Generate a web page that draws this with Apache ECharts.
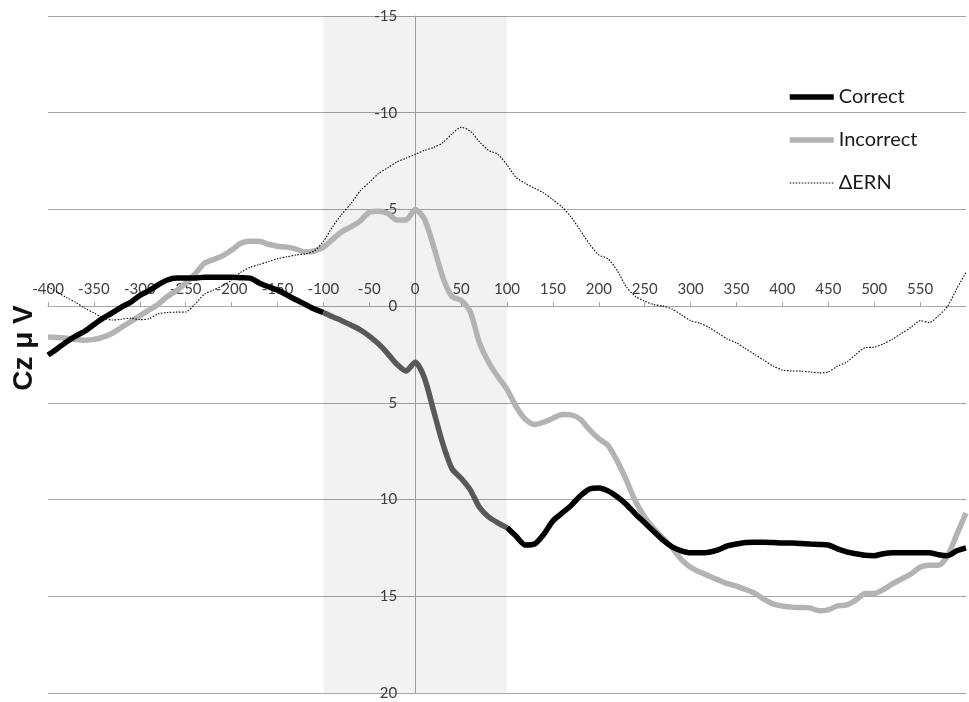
<!DOCTYPE html>
<html>
<head>
<meta charset="utf-8">
<script src="https://cdn.jsdelivr.net/npm/echarts@6/dist/echarts.min.js"></script>
<style>
  html, body { margin: 0; padding: 0; background: #fff; }
  #chart { width: 969px; height: 702px; }
</style>
</head>
<body>
<div id="chart"></div>
<script>
// Time points (ms relative to response), sampled every 10 ms
const times = Array.from({ length: 101 }, (_, i) => -400 + 10 * i);

// Cz amplitude (µV) for correct responses
const correct = [
  2.53, 2.2, 1.85, 1.55, 1.3, 0.95, 0.62, 0.35, 0.05, -0.2,
  -0.55, -0.8, -1.1, -1.35, -1.45, -1.45, -1.45, -1.5, -1.5, -1.5,
  -1.5, -1.47, -1.45, -1.2, -1.0, -0.83, -0.58, -0.33, -0.1, 0.15,
  0.33, 0.55, 0.75, 0.98, 1.22, 1.55, 1.95, 2.45, 3.0, 3.35,
  2.9, 3.7, 5.4, 7.1, 8.4, 8.9, 9.5, 10.4, 10.9, 11.2,
  11.45, 11.9, 12.35, 12.3, 11.8, 11.1, 10.7, 10.3, 9.8, 9.45,
  9.4, 9.55, 9.85, 10.25, 10.75, 11.2, 11.65, 12.1, 12.45, 12.65,
  12.75, 12.75, 12.72, 12.6, 12.4, 12.3, 12.22, 12.2, 12.2, 12.22,
  12.25, 12.25, 12.27, 12.3, 12.32, 12.35, 12.55, 12.7, 12.8, 12.88,
  12.9, 12.8, 12.75, 12.75, 12.75, 12.75, 12.75, 12.85, 12.9, 12.65,
  12.5
];

// Cz amplitude (µV) for incorrect responses
const incorrect = [
  1.6, 1.62, 1.66, 1.72, 1.76, 1.72, 1.6, 1.4, 1.1, 0.8,
  0.5, 0.2, -0.1, -0.5, -0.8, -1.2, -1.65, -2.2, -2.4, -2.6,
  -2.9, -3.25, -3.35, -3.35, -3.2, -3.1, -3.05, -2.95, -2.8, -2.85,
  -3.05, -3.45, -3.85, -4.1, -4.4, -4.85, -4.9, -4.8, -4.45, -4.45,
  -5.0, -4.5, -3.1, -1.5, -0.5, -0.3, 0.3, 1.9, 2.9, 3.65,
  4.3, 5.2, 5.85, 6.12, 6.0, 5.8, 5.6, 5.62, 5.86, 6.4,
  6.85, 7.2, 8.0, 9.0, 10.1, 10.9, 11.5, 12.0, 12.5, 13.1,
  13.5, 13.75, 13.95, 14.15, 14.35, 14.47, 14.65, 14.85, 15.15, 15.4,
  15.5, 15.56, 15.58, 15.6, 15.75, 15.7, 15.5, 15.45, 15.2, 14.85,
  14.85, 14.65, 14.35, 14.1, 13.85, 13.5, 13.4, 13.4, 12.9, 11.8,
  10.7
];

// Difference wave (ΔERN)
const deltaERN = [
  -1.0, -0.72, -0.45, -0.2, 0.1, 0.35, 0.6, 0.72, 0.68, 0.62,
  0.7, 0.65, 0.4, 0.33, 0.31, 0.3, -0.1, -0.6, -0.83, -1.05,
  -1.35, -1.75, -2.0, -2.15, -2.3, -2.45, -2.55, -2.64, -2.7, -2.85,
  -3.35, -4.1, -4.75, -5.3, -5.95, -6.4, -6.85, -7.15, -7.45, -7.65,
  -7.85, -8.05, -8.2, -8.45, -8.9, -9.25, -9.05, -8.5, -8.05, -7.85,
  -7.3, -6.65, -6.35, -6.1, -5.85, -5.5, -5.12, -4.6, -3.9, -3.2,
  -2.65, -2.45, -1.84, -1.0, -0.5, -0.25, -0.08, 0.0, 0.15, 0.45,
  0.75, 0.88, 1.1, 1.4, 1.7, 1.9, 2.2, 2.5, 2.8, 3.1,
  3.3, 3.35, 3.36, 3.4, 3.45, 3.4, 3.1, 2.9, 2.5, 2.15,
  2.12, 1.95, 1.7, 1.4, 1.1, 0.75, 0.85, 0.5, 0.0, -0.9,
  -1.75
];

// Response window highlighted on the plot (ms)
const windowRange = [-100, 100];

const seriesNames = ['Correct', 'Incorrect', '\u0394ERN'];

const pairs = (vals, keep) =>
  times.map((t, i) => [t, keep(t) ? vals[i] : null]);

const inWindow = t => t >= windowRange[0] && t <= windowRange[1];
const outWindow = t => t <= windowRange[0] || t >= windowRange[1];

// Plot area and axis ranges
const W = 969, H = 702;
const grid = { left: 48, right: 3, top: 16, bottom: 9 };
const xRange = [-400, 600];
const yRange = [-15, 20];
const plotW = W - grid.left - grid.right;
const plotH = H - grid.top - grid.bottom;
// Axes cross at (0, 0): shift each axis inward from its grid edge
const xAxisShift = plotH * (0 - yRange[0]) / (yRange[1] - yRange[0]);
const yAxisShift = plotW * (0 - xRange[0]) / (xRange[1] - xRange[0]);

const chart = echarts.init(document.getElementById('chart'), null, { renderer: 'canvas' });

const labelFont = { fontFamily: 'Lato, "Open Sans", sans-serif', fontSize: 15, color: '#404040' };

chart.setOption({
  animation: false,
  backgroundColor: '#ffffff',
  grid: Object.assign({ containLabel: false, outerBoundsMode: 'none' }, grid),
  legend: {
    orient: 'vertical',
    left: 782,
    top: 82,
    itemWidth: 44,
    itemHeight: 20,
    itemGap: 23,
    itemStyle: { opacity: 0 },
    data: [
      { name: seriesNames[0], lineStyle: { width: 5.5 } },
      { name: seriesNames[1], lineStyle: { width: 5.5 } },
      { name: seriesNames[2], lineStyle: { width: 1 } }
    ],
    textStyle: { fontFamily: 'Lato, "Open Sans", sans-serif', fontSize: 20, color: '#1a1a1a', lineHeight: 20 }
  },
  xAxis: {
    type: 'value',
    position: 'top',
    offset: -xAxisShift,
    min: xRange[0],
    max: xRange[1],
    interval: 50,
    axisLine: { onZero: false, lineStyle: { color: '#a6a6a6', width: 1 } },
    axisTick: { show: true, length: 4, lineStyle: { color: '#a6a6a6' } },
    axisLabel: Object.assign({ margin: 9, showMaxLabel: false }, labelFont),
    splitLine: { show: false }
  },
  yAxis: {
    type: 'value',
    position: 'left',
    offset: -yAxisShift,
    inverse: true,
    min: yRange[0],
    max: yRange[1],
    interval: 5,
    axisLine: { show: true, onZero: false, lineStyle: { color: '#a6a6a6', width: 1 } },
    axisTick: { show: false },
    axisLabel: Object.assign({ margin: 18 }, labelFont),
    splitLine: { show: true, lineStyle: { color: '#a6a6a6', width: 1 } }
  },
  graphic: [{
    type: 'text',
    x: 24,
    y: 348,
    rotation: Math.PI / 2,
    style: {
      text: 'Cz \u03bc V',
      font: 'bold 28px "Liberation Sans", Arial, sans-serif',
      fill: '#111',
      align: 'center',
      verticalAlign: 'middle'
    }
  }],
  series: [
    {
      name: seriesNames[1],
      type: 'line',
      data: pairs(incorrect, () => true),
      symbol: 'none',
      smooth: 0.25,
      z: 2,
      lineStyle: { color: '#b3b3b3', width: 5.5 },
      itemStyle: { color: '#b3b3b3' },
      markArea: {
        silent: true,
        itemStyle: { color: 'rgba(0,0,0,0.05)' },
        data: [[{ xAxis: windowRange[0] }, { xAxis: windowRange[1] }]]
      }
    },
    {
      name: seriesNames[0],
      type: 'line',
      data: pairs(correct, outWindow),
      symbol: 'none',
      smooth: 0.25,
      connectNulls: false,
      z: 3,
      lineStyle: { color: '#000000', width: 5.5 },
      itemStyle: { color: '#000000' }
    },
    {
      name: 'Correct (window)',
      type: 'line',
      data: pairs(correct, inWindow),
      symbol: 'none',
      smooth: 0.25,
      connectNulls: false,
      z: 3,
      lineStyle: { color: '#585858', width: 5.5 },
      itemStyle: { color: '#585858' }
    },
    {
      name: seriesNames[2],
      type: 'line',
      data: pairs(deltaERN, () => true),
      symbol: 'none',
      smooth: 0.25,
      z: 4,
      lineStyle: { color: '#000000', width: 1.1, type: [1.5, 1.5] },
      itemStyle: { color: '#000000' }
    }
  ]
});
</script>
</body>
</html>
